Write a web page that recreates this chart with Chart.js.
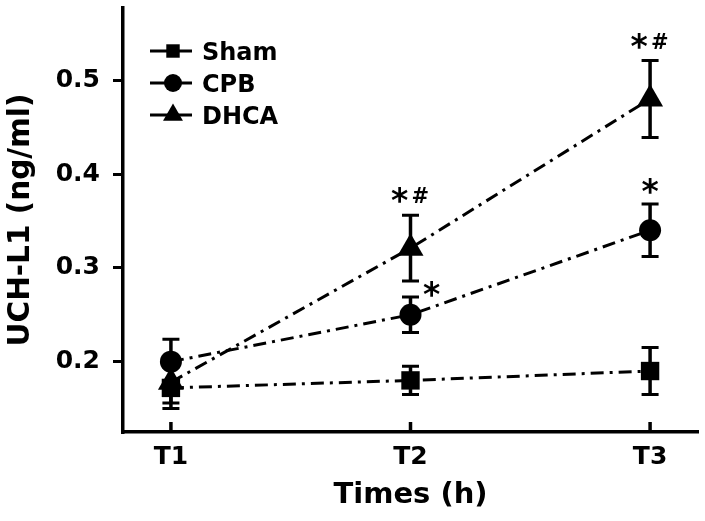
<!DOCTYPE html>
<html>
<head>
<meta charset="utf-8">
<script src="https://cdn.jsdelivr.net/npm/chart.js@4/dist/chart.umd.min.js"></script>
<style>
html,body{margin:0;padding:0;background:#fff;}
#c{display:block;}
</style>
</head>
<body>
<canvas id="c" width="705" height="521"></canvas>
<script>
// ---- data ----
const categories = ["T1", "T2", "T3"];
const seriesNames = ["Sham", "CPB", "DHCA"];
const shamMean = [0.172, 0.180, 0.190];
const shamErr  = [0.022, 0.015, 0.025];
const cpbMean  = [0.200, 0.250, 0.340];
const cpbErr   = [0.024, 0.019, 0.028];
const dhcaMean = [0.178, 0.321, 0.480];
const dhcaErr  = [0.022, 0.035, 0.041];
const yTickValues = [0.2, 0.3, 0.4, 0.5];
const yAxisTitle = "UCH-L1 (ng/ml)";
const xAxisTitle = "Times (h)";
// significance marks: series index, time index, text
const marks = [
  { series: 2, index: 1, text: "*#" },
  { series: 1, index: 1, text: "*" },
  { series: 2, index: 2, text: "*#" },
  { series: 1, index: 2, text: "*" }
];

// ---- styles ----
const FONT = '"DejaVu Sans", "Liberation Sans", sans-serif';
const means = [shamMean, cpbMean, dhcaMean];
const errs = [shamErr, cpbErr, dhcaErr];
const markerStyle = [
  { pointStyle: 'rect', radius: 13, legendRadius: 9.5 },
  { pointStyle: 'circle', radius: 11, legendRadius: 9 },
  { pointStyle: 'triangle', radius: 15, legendRadius: 11.5 }
];
const markSide = { "1-1": "right" };

const datasets = seriesNames.map((name, s) => ({
  label: name,
  data: categories.map((c, i) => ({ x: i + 1, y: means[s][i] })),
  errors: errs[s],
  borderColor: '#000',
  backgroundColor: '#000',
  borderWidth: 3,
  borderDash: [13, 6, 3, 6],
  fill: false,
  tension: 0,
  pointStyle: markerStyle[s].pointStyle,
  pointRadius: markerStyle[s].radius,
  legendRadius: markerStyle[s].legendRadius,
  pointBackgroundColor: '#000',
  pointBorderColor: '#000',
  pointBorderWidth: 0
}));

const errorBarPlugin = {
  id: 'errorBars',
  afterDatasetsDraw(chart) {
    const { ctx, scales: { x, y } } = chart;
    ctx.save();
    ctx.strokeStyle = '#000';
    ctx.lineCap = 'butt';
    chart.data.datasets.forEach(ds => {
      ds.data.forEach((p, i) => {
        const px = x.getPixelForValue(p.x);
        const top = y.getPixelForValue(p.y + ds.errors[i]);
        const bot = y.getPixelForValue(p.y - ds.errors[i]);
        ctx.lineWidth = 3.5;
        ctx.beginPath();
        ctx.moveTo(px, top); ctx.lineTo(px, bot);
        ctx.stroke();
        ctx.lineWidth = 3;
        ctx.beginPath();
        ctx.moveTo(px - 8.5, top); ctx.lineTo(px + 8.5, top);
        ctx.moveTo(px - 8.5, bot); ctx.lineTo(px + 8.5, bot);
        ctx.stroke();
      });
    });
    ctx.restore();
  }
};

function drawCentered(ctx, text, font, cx, cy) {
  ctx.font = font;
  const m = ctx.measureText(text);
  const w = m.actualBoundingBoxRight + m.actualBoundingBoxLeft;
  const h = m.actualBoundingBoxAscent + m.actualBoundingBoxDescent;
  const x = cx - w / 2 + m.actualBoundingBoxLeft;
  const y = cy + h / 2 - m.actualBoundingBoxDescent;
  ctx.textAlign = 'left';
  ctx.textBaseline = 'alphabetic';
  ctx.fillText(text, x, y);
}

const marksPlugin = {
  id: 'marks',
  afterDraw(chart) {
    const { ctx, scales: { x, y } } = chart;
    ctx.save();
    ctx.fillStyle = '#000';
    marks.forEach(mk => {
      const ds = chart.data.datasets[mk.series];
      const p = ds.data[mk.index];
      const px = x.getPixelForValue(p.x);
      const top = y.getPixelForValue(p.y + ds.errors[mk.index]);
      const side = markSide[mk.series + '-' + mk.index];
      const starFont = 'bold 33px ' + FONT;
      const hashFont = 'bold 21px ' + FONT;
      if (side === 'right') {
        drawCentered(ctx, '*', starFont, px + 21, top - 8);
      } else if (mk.text === '*#') {
        drawCentered(ctx, '*', starFont, px - 11, top - 20);
        drawCentered(ctx, '#', hashFont, px + 10, top - 20);
      } else {
        drawCentered(ctx, '*', starFont, px, top - 18);
      }
    });
    ctx.restore();
  }
};

const xTickPlugin = {
  id: 'xInwardTicks',
  afterDraw(chart) {
    const { ctx, chartArea, scales: { x } } = chart;
    ctx.save();
    ctx.strokeStyle = '#000';
    ctx.lineWidth = 3.5;
    x.ticks.forEach(t => {
      const px = x.getPixelForValue(t.value);
      ctx.beginPath();
      ctx.moveTo(px, chartArea.bottom);
      ctx.lineTo(px, chartArea.bottom - 10);
      ctx.stroke();
    });
    ctx.restore();
  }
};

const legendPlugin = {
  id: 'insideLegend',
  afterDraw(chart) {
    const ctx = chart.ctx;
    const left = 150, lineLen = 42, markX = 173, textX = 202, top = 51, row = 32;
    ctx.save();
    chart.data.datasets.forEach((ds, i) => {
      const cy = top + i * row;
      ctx.strokeStyle = '#000';
      ctx.fillStyle = '#000';
      ctx.lineWidth = 3;
      ctx.setLineDash([]);
      ctx.beginPath();
      ctx.moveTo(left, cy); ctx.lineTo(left + lineLen, cy);
      ctx.stroke();
      Chart.helpers.drawPoint(ctx, { pointStyle: ds.pointStyle, radius: ds.legendRadius, rotation: 0, borderWidth: 0 }, markX, cy);
      ctx.font = 'bold 24px ' + FONT;
      ctx.textAlign = 'left';
      ctx.textBaseline = 'alphabetic';
      ctx.fillText(ds.label, textX, cy + 9);
    });
    ctx.restore();
  }
};

new Chart(document.getElementById('c'), {
  type: 'line',
  data: { datasets },
  options: {
    responsive: false,
    devicePixelRatio: 1,
    animation: false,
    events: [],
    layout: { autoPadding: false, padding: { left: 0, top: 8, right: 7, bottom: 0 } },
    plugins: { legend: { display: false }, tooltip: { enabled: false } },
    scales: {
      x: {
        type: 'linear',
        min: 0.8,
        max: 3.2,
        afterBuildTicks: s => { s.ticks = categories.map((c, i) => ({ value: i + 1 })); },
        afterFit: s => { s.height = 89; s.paddingLeft = 0; s.paddingRight = 0; },
        grid: { display: false, drawTicks: false },
        border: { display: true, color: '#000', width: 3.5 },
        ticks: {
          color: '#000',
          padding: 10,
          maxRotation: 0,
          autoSkip: false,
          font: { family: FONT, size: 25, weight: 'bold' },
          callback: v => categories[Math.round(v) - 1]
        },
        title: {
          display: true,
          text: xAxisTitle,
          color: '#000',
          font: { family: FONT, size: 29, weight: 'bold' },
          padding: { top: 0, bottom: 8 }
        }
      },
      y: {
        type: 'linear',
        min: 0.125,
        max: 0.577,
        afterBuildTicks: s => { s.ticks = yTickValues.map(v => ({ value: v })); },
        afterFit: s => { s.width = 123; s.paddingTop = 0; s.paddingBottom = 0; },
        grid: { display: true, drawOnChartArea: false, drawTicks: true, tickLength: 10, tickWidth: 3, tickColor: '#000', color: '#000', lineWidth: 3 },
        border: { display: true, color: '#000', width: 3.5 },
        ticks: {
          color: '#000',
          padding: 13,
          font: { family: FONT, size: 25, weight: 'bold' },
          callback: v => Number(v).toFixed(1)
        },
        title: {
          display: true,
          text: yAxisTitle,
          color: '#000',
          font: { family: FONT, size: 29.5, weight: 'bold' },
          padding: { top: 4, bottom: 0 }
        }
      }
    }
  },
  plugins: [errorBarPlugin, xTickPlugin, marksPlugin, legendPlugin]
});
</script>
</body>
</html>
